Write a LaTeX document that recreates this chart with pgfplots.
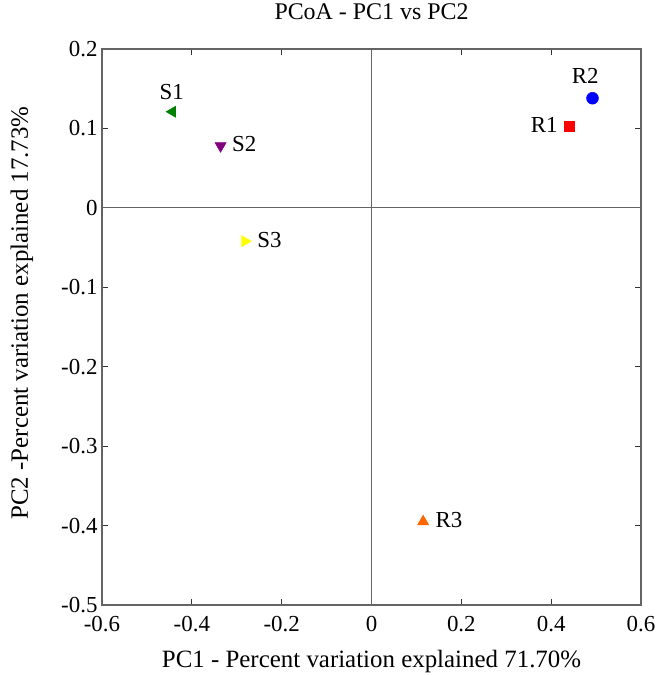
\documentclass[border=0pt]{standalone}
\usepackage{pgfplots}
\pgfplotsset{compat=1.18}
\usepackage{fontspec}
\setmainfont{Liberation Serif}
\definecolor{sgreen}{RGB}{0,128,0}
\definecolor{spurple}{RGB}{128,0,128}
\definecolor{syellow}{RGB}{255,255,0}
\definecolor{rorange}{RGB}{255,102,0}
\definecolor{axgray}{RGB}{100,100,100}
\begin{document}
\begin{tikzpicture}
	\begin{axis}[
		scale only axis,
		width=539bp, height=556bp,
		xmin=-0.6, xmax=0.6,
		ymin=-0.5, ymax=0.2,
		xtick={-0.6,-0.4,-0.2,0,0.2,0.4,0.6},
		xticklabels={-0.6,-0.4,-0.2,0,0.2,0.4,0.6},
		ytick={-0.5,-0.4,-0.3,-0.2,-0.1,0,0.1,0.2},
		yticklabels={-0.5,-0.4,-0.3,-0.2,-0.1,0,0.1,0.2},
		tick align=inside,
		major tick length=6bp,
		axis line style={axgray, line width=1.3pt},
		every tick/.style={black!80, line width=1pt},
		tick label style={font=\fontsize{23}{27}\selectfont},
		xticklabel style={yshift=-8bp},
		yticklabel style={xshift=-1bp},
		title={PCoA - PC1 vs PC2},
		title style={font=\fontsize{24}{28}\selectfont, at={(0.5,1)}, anchor=center, yshift=31bp},
		xlabel={PC1 - Percent variation explained 71.70\%},
		ylabel={PC2 -Percent variation explained 17.73\%},
		label style={font=\fontsize{25}{29}\selectfont},
		xlabel style={at={(0.5,0)}, anchor=center, yshift=-57bp},
		ylabel style={at={(0,0.5)}, anchor=center, yshift=80bp, xshift=14bp},
		clip=false,
		]

		% cross lines through origin
		\addplot[axgray, line width=1.2pt] coordinates {(-0.6,0) (0.6,0)};
		\addplot[axgray, line width=1.2pt] coordinates {(0,-0.5) (0,0.2)};

		% samples
		\addplot[only marks, mark=triangle*, mark size=6.5bp, mark options={rotate=90}, color=sgreen] coordinates {(-0.443,0.121)};
		\addplot[only marks, mark=triangle*, mark size=6.5bp, mark options={rotate=180}, color=spurple] coordinates {(-0.336,0.078)};
		\addplot[only marks, mark=triangle*, mark size=6.5bp, mark options={rotate=-90}, color=syellow] coordinates {(-0.282,-0.042)};
		\addplot[only marks, mark=square*, mark size=5bp, color=red] coordinates {(0.441,0.103)};
		\addplot[only marks, mark=*, mark size=6bp, color=blue] coordinates {(0.492,0.138)};
		\addplot[only marks, mark=triangle*, mark size=6.5bp, color=rorange] coordinates {(0.115,-0.395)};

		\node[font=\fontsize{23}{27}\selectfont] at (axis cs:-0.445,0.146) {S1};
		\node[font=\fontsize{23}{27}\selectfont, anchor=west] at (axis cs:-0.318,0.080) {S2};
		\node[font=\fontsize{23}{27}\selectfont, anchor=west] at (axis cs:-0.262,-0.041) {S3};
		\node[font=\fontsize{23}{27}\selectfont] at (axis cs:0.476,0.166) {R2};
		\node[font=\fontsize{23}{27}\selectfont, anchor=east] at (axis cs:0.422,0.104) {R1};
		\node[font=\fontsize{23}{27}\selectfont, anchor=west] at (axis cs:0.135,-0.393) {R3};

		\coordinate (bl) at (rel axis cs:0,0);
		\coordinate (tr) at (rel axis cs:1,1);
	\end{axis}
	\pgfresetboundingbox
	\path[use as bounding box] ([shift={(-102bp,-70bp)}]bl) rectangle ([shift={(15bp,49bp)}]tr);
\end{tikzpicture}
\end{document}
